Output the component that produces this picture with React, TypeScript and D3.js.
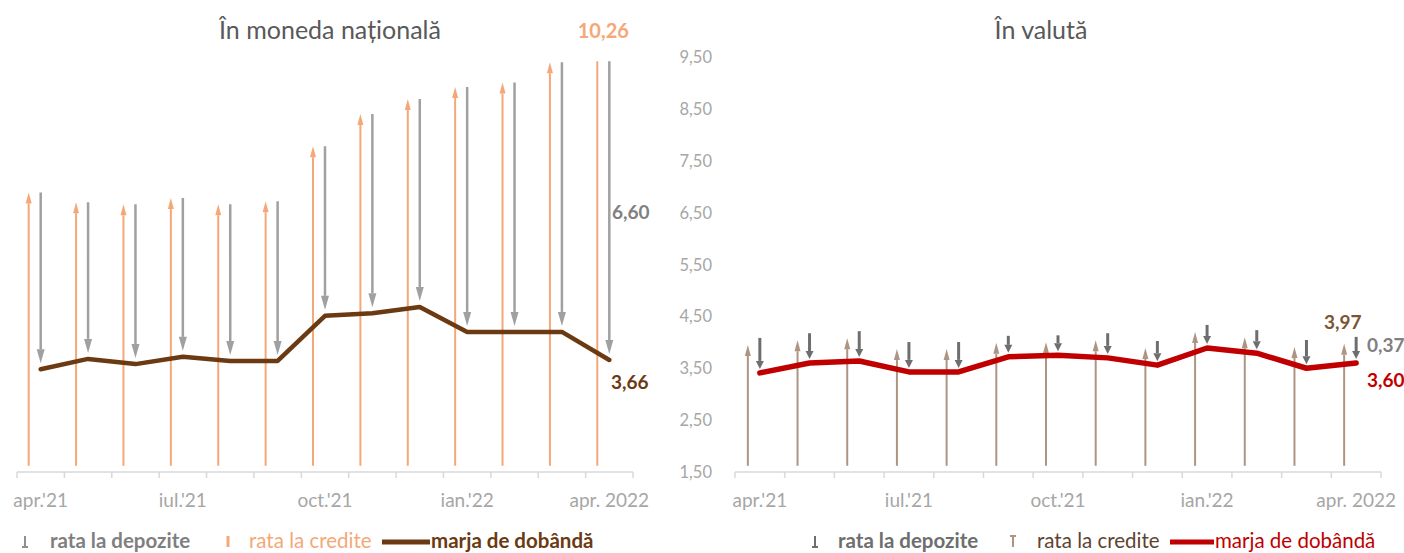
import * as d3 from 'd3'

const months = ["apr.'21", "mai.'21", "iun.'21", "iul.'21", "aug.'21", "sep.'21", "oct.'21", "noi.'21", "dec.'21", "ian.'22", "feb.'22", "mar.'22", 'apr. 2022']
const shownMonths = ["apr.'21", "iul.'21", "oct.'21", "ian.'22", 'apr. 2022']
const yTicks = [1.5, 2.5, 3.5, 4.5, 5.5, 6.5, 7.5, 8.5, 9.5]

// în moneda națională
const creditMDL = [6.89, 6.70, 6.66, 6.78, 6.66, 6.72, 7.78, 8.40, 8.69, 8.92, 9.01, 9.40, 10.26]
const depositMDL = [3.41, 3.02, 3.08, 3.06, 3.02, 3.08, 3.27, 3.84, 4.01, 4.72, 4.81, 5.20, 6.60]
const marginMDL = [3.48, 3.68, 3.58, 3.72, 3.64, 3.64, 4.51, 4.56, 4.68, 4.20, 4.20, 4.20, 3.66]

// în valută
const creditFX = [3.95, 4.04, 4.08, 3.87, 3.87, 3.99, 4.00, 4.04, 3.89, 4.20, 4.10, 3.91, 3.97]
const depositFX = [0.54, 0.44, 0.44, 0.44, 0.44, 0.27, 0.25, 0.34, 0.33, 0.31, 0.31, 0.41, 0.37]
const marginFX = [3.41, 3.60, 3.64, 3.43, 3.43, 3.72, 3.75, 3.70, 3.56, 3.89, 3.79, 3.50, 3.60]

const FONT = 'Lato, "Open Sans", sans-serif'
const fmt = (v: number) => v.toFixed(2).replace('.', ',')

const y = d3.scaleLinear().domain([1.5, 9.5]).range([472, 57])

function Arrow({ x, y1, y2, color, width, head, headW }: { x: number; y1: number; y2: number; color: string; width: number; head: number; headW: number }) {
  // arrow from y1 to y2, head at y2
  const dir = y2 < y1 ? 1 : -1
  const base = y2 + dir * head
  return (
    <g>
      <line x1={x} x2={x} y1={y1} y2={base} stroke={color} strokeWidth={width} />
      <path d={`M${x - headW / 2},${base}L${x + headW / 2},${base}L${x},${y2}Z`} fill={color} />
    </g>
  )
}

interface PanelProps {
  x0: number
  x1: number
  title: string
  titleX: number
  credit: number[]
  deposit: number[]
  margin: number[]
  creditColor: string
  depositColor: string
  marginColor: string
  marginWidth: number
  depWidth: number
  depTop: number
  depGap: number
  depHead: number
  clipId: string
}

function Panel(p: PanelProps) {
  const x = d3.scaleBand<string>().domain(months).range([p.x0, p.x1])
  const cx = (m: string) => x(m)! + x.bandwidth() / 2
  const line = d3.line<number>()
    .x((_, i) => cx(months[i]))
    .y(d => y(d))
  const boundaries = [...months.map(m => x(m)!), p.x1]
  return (
    <g>
      <text x={p.titleX} y={39} textAnchor="middle" fontSize={25} fill="#595959" fontFamily={FONT}>{p.title}</text>
      <line x1={p.x0} x2={p.x1} y1={y(1.5)} y2={y(1.5)} stroke="#d9d9d9" strokeWidth={1.5} />
      {boundaries.map((b, i) => (
        <line key={i} x1={b} x2={b} y1={y(1.5)} y2={y(1.5) + 6} stroke="#d9d9d9" strokeWidth={1.5} />
      ))}
      {shownMonths.map(m => (
        <text key={m} x={cx(m)} y={y(1.5) + 35} textAnchor="middle" fontSize={19} fill="#a6a6a6" fontFamily={FONT}>{m}</text>
      ))}
      <g clipPath={`url(#${p.clipId})`}>
        {months.map((m, i) => (
          <Arrow key={'c' + m} x={cx(m) - 12} y1={y(1.62)} y2={y(p.credit[i])} color={p.creditColor} width={2} head={11} headW={6} />
        ))}
        {months.map((m, i) => (
          <Arrow key={'d' + m} x={cx(m)} y1={y(p.credit[i]) - p.depTop} y2={y(p.credit[i] - p.deposit[i]) - p.depGap}
            color={p.depositColor} width={p.depWidth} head={p.depHead} headW={8} />
        ))}
      </g>
      <path d={line(p.margin) ?? ''} fill="none" stroke={p.marginColor} strokeWidth={p.marginWidth} strokeLinejoin="round" strokeLinecap="round" />
    </g>
  )
}

export default function App() {
  const lastL = d3.scaleBand<string>().domain(months).range([17, 633])
  return (
    <svg width={1404} height={553} style={{ position: 'absolute', left: 0, top: 0, background: '#fff' }} fontFamily={FONT}>
      <defs>
        <clipPath id="clipL"><rect x={0} y={y(9.42)} width={700} height={500} /></clipPath>
        <clipPath id="clipR"><rect x={700} y={y(9.42)} width={704} height={500} /></clipPath>
      </defs>
      <Panel x0={17} x1={633} title="În moneda națională" titleX={330} credit={creditMDL} deposit={depositMDL} margin={marginMDL}
        creditColor="#f4a878" depositColor="#a0a0a0" marginColor="#6b3a12" marginWidth={4.5} depWidth={2.5}
        depTop={0} depGap={6} depHead={14} clipId="clipL" />
      <Panel x0={735} x1={1381} title="În valută" titleX={1041} credit={creditFX} deposit={depositFX} margin={marginFX}
        creditColor="#ad9483" depositColor="#6e6e6e" marginColor="#c00000" marginWidth={5.5} depWidth={3}
        depTop={7} depGap={4} depHead={8} clipId="clipR" />

      {yTicks.map(t => (
        <text key={t} x={712} y={y(t) + 6} textAnchor="end" fontSize={16.5} fill="#a6a6a6">{fmt(t)}</text>
      ))}

      {/* value labels */}
      <text x={lastL(months[12])! + lastL.bandwidth() / 2 - 6} y={38} textAnchor="middle" fontSize={20} fontWeight="bold" fill="#f4a878">{fmt(creditMDL[12])}</text>
      <text x={612} y={219} fontSize={19} fontWeight="bold" fill="#808080">{fmt(depositMDL[12])}</text>
      <text x={611} y={389} fontSize={19} fontWeight="bold" fill="#6b3a12">{fmt(marginMDL[12])}</text>
      <text x={1324} y={329} fontSize={19} fontWeight="bold" fill="#7b5434">{fmt(creditFX[12])}</text>
      <text x={1367} y={352} fontSize={19} fontWeight="bold" fill="#808080">{fmt(depositFX[12])}</text>
      <text x={1367} y={387} fontSize={19} fontWeight="bold" fill="#c00000">{fmt(marginFX[12])}</text>

      {/* legend left */}
      <g fontSize={20.5}>
        <line x1={25} x2={25} y1={536} y2={547} stroke="#909090" strokeWidth={2} />
        <line x1={22} x2={28} y1={547} y2={547} stroke="#909090" strokeWidth={2} />
        <text x={50} y={548} fontWeight="bold" fill="#7f7f7f">rata la depozite</text>
        <line x1={228} x2={228} y1={536} y2={547} stroke="#f4a878" strokeWidth={3} />
        <text x={249} y={548} fill="#f4a878">rata la credite</text>
        <line x1={382} x2={430} y1={542} y2={542} stroke="#6b3a12" strokeWidth={5} />
        <text x={431} y={548} fontWeight="bold" fill="#6b3a12">marja de dobândă</text>
      </g>
      {/* legend right */}
      <g fontSize={20.5}>
        <line x1={815} x2={815} y1={536} y2={547} stroke="#6e6e6e" strokeWidth={2} />
        <line x1={812} x2={818} y1={547} y2={547} stroke="#6e6e6e" strokeWidth={2} />
        <text x={838} y={548} fontWeight="bold" fill="#6e6e6e">rata la depozite</text>
        <line x1={1013} x2={1013} y1={536} y2={547} stroke="#ad9483" strokeWidth={2} />
        <line x1={1010} x2={1016} y1={536} y2={536} stroke="#ad9483" strokeWidth={2} />
        <text x={1037} y={548} fill="#5e4330">rata la credite</text>
        <line x1={1170} x2={1214} y1={542} y2={542} stroke="#c00000" strokeWidth={5} />
        <text x={1215} y={548} fill="#c00000">marja de dobândă</text>
      </g>
    </svg>
  )
}
